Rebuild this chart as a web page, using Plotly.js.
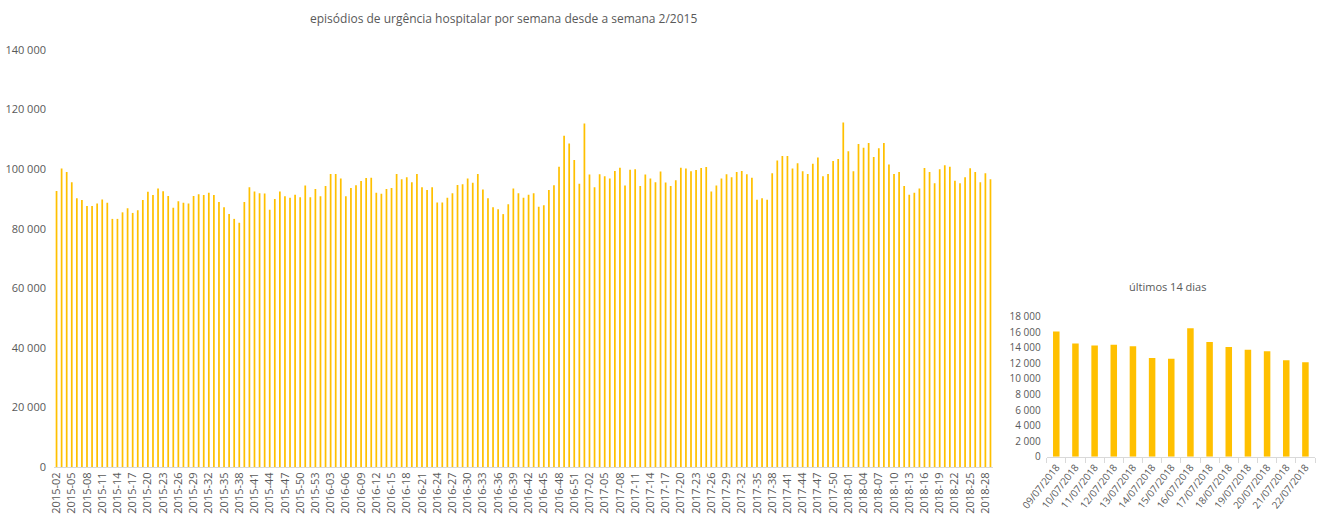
<!DOCTYPE html>
<html>
<head>
<meta charset="utf-8">
<script src="https://cdn.plot.ly/plotly-3.0.1.min.js"></script>
<style>
html,body{margin:0;padding:0;background:#fff;}
#chart{width:1325px;height:524px;}
</style>
</head>
<body>
<div id="chart"></div>
<script>
// weekly categories: 2015-02 .. 2018-29
var weekYears = [2015, 2016, 2017, 2018];
var weekFirst = [2, 1, 1, 1];
var weekLast = [53, 52, 52, 29];
var weeks = [];
for (var k = 0; k < weekYears.length; k++) {
  for (var w = weekFirst[k]; w <= weekLast[k]; w++) {
    weeks.push(weekYears[k] + '-' + (w < 10 ? '0' + w : '' + w));
  }
}

var episodes2015a = [92700, 100200, 99000, 95600, 90200, 89600, 87600, 87600, 88500, 89800,
  88700, 83300, 83300, 85500, 86900, 85300, 86200, 89600, 92400, 91300,
  93500, 92600, 91000, 87000, 89200, 88700, 88500, 91000, 91600, 91300,
  92100, 91300, 89000];
var episodes2015b = [87200, 84900, 83300, 82000, 89000, 93900, 92500, 91900, 91800, 86400,
  90000, 92500, 90900, 90400, 91400, 90600, 94500, 90600, 93300, 90900,
  94300, 98400, 98400, 96900, 90900, 93700, 94600, 96000, 97000, 97100,
  92100, 91700, 93300, 93700, 98400];
var episodes2016 = [96600, 97300, 95600, 98400, 93900, 93000, 93900, 88800, 88800, 90400,
  91900, 94700, 94900, 96900, 95400, 98400, 93200, 90200, 87200, 86500,
  84900, 88200, 93500, 91900, 90400, 91400, 91900, 87400, 87900, 93000,
  94600, 100800, 111200, 108600, 103100, 95100, 115300, 98200];
var episodes2017a = [93900, 98300, 97600, 96900, 99400, 100500, 94500, 99800, 100000, 94300,
  98200, 96900, 95600, 99200, 95500, 94300, 96300, 100500, 100200, 99300,
  99700, 100400, 100700, 92500, 94500, 96900, 98300, 97300, 99000, 99400,
  98300, 97100, 89700, 90200, 89700, 98600, 102900, 104400, 104400];
var episodes2017b = [100200, 102000, 99300, 98400, 101800, 103900, 97600, 98400, 102700, 103400,
  115700, 106000, 99300, 108400, 107200, 108800, 104100, 107000, 108800, 101600,
  98400, 99000, 94300, 91400, 92100, 93500, 100400, 99000, 95300, 100000,
  101300, 100800, 96100, 95300, 97300, 100300, 99000, 95600, 98600, 96600];
var weeklyEpisodes = episodes2015a.concat(episodes2015b, episodes2016, episodes2017a, episodes2017b);

var weekTickLabels = weeks.filter(function (d, i) { return i % 3 === 0; });

var days = ['09/07/2018', '10/07/2018', '11/07/2018', '12/07/2018', '13/07/2018', '14/07/2018', '15/07/2018',
  '16/07/2018', '17/07/2018', '18/07/2018', '19/07/2018', '20/07/2018', '21/07/2018', '22/07/2018'];
var dailyEpisodes = [16100, 14550, 14300, 14400, 14200, 12700, 12600,
  16500, 14750, 14100, 13750, 13550, 12400, 12150];

var gold = '#FFC000';
var grey = '#595959';
var fontFam = 'Open Sans, sans-serif';

var traces = [
  {type: 'bar', x: weeks, y: weeklyEpisodes, xaxis: 'x', yaxis: 'y',
   marker: {color: gold, line: {width: 0}}, hoverinfo: 'x+y'},
  {type: 'bar', x: days, y: dailyEpisodes, xaxis: 'x2', yaxis: 'y2',
   marker: {color: gold, line: {width: 0}}, hoverinfo: 'x+y'}
];

var layout = {
  width: 1325, height: 524,
  margin: {l: 0, r: 0, t: 0, b: 0},
  paper_bgcolor: '#fff', plot_bgcolor: '#fff',
  showlegend: false,
  separators: ', ',
  bargap: 0.66,
  font: {family: fontFam, color: grey, size: 11},
  xaxis: {
    domain: [54 / 1325, 993 / 1325], anchor: 'y', type: 'category',
    tickmode: 'array', tickvals: weekTickLabels, ticktext: weekTickLabels,
    tickangle: -90, tickfont: {size: 11, color: grey, family: fontFam},
    showline: true, linecolor: '#D9D9D9', linewidth: 1,
    ticks: '', showgrid: false, zeroline: false, fixedrange: true
  },
  yaxis: {
    domain: [1 - 467 / 524, 1 - 50 / 524], anchor: 'x',
    range: [0, 140000], dtick: 20000, tickformat: ',d',
    tickfont: {size: 11, color: grey, family: fontFam},
    showgrid: false, zeroline: false, showline: false, ticks: '',
    ticklabelstandoff: 7, fixedrange: true
  },
  xaxis2: {
    domain: [1046.7 / 1325, 1315 / 1325], anchor: 'y2', type: 'category',
    tickangle: -52, tickfont: {size: 10, color: grey, family: fontFam},
    showline: true, linecolor: '#D9D9D9', linewidth: 1,
    ticks: 'outside', tickson: 'boundaries', ticklen: 5, tickcolor: '#D9D9D9',
    showgrid: false, zeroline: false, fixedrange: true
  },
  yaxis2: {
    domain: [1 - 456.7 / 524, 1 - 316.7 / 524], anchor: 'x2',
    range: [0, 18000], dtick: 2000, tickformat: ',d',
    tickfont: {size: 10, color: grey, family: fontFam},
    showgrid: false, zeroline: false, showline: false, ticks: '',
    ticklabelstandoff: 5, fixedrange: true
  },
  annotations: [
    {text: 'episódios de urgência hospitalar por semana desde a semana 2/2015',
     xref: 'paper', yref: 'paper', x: 503 / 1325, y: 1 - 19 / 524,
     xanchor: 'center', yanchor: 'middle', showarrow: false,
     font: {size: 12, color: grey, family: fontFam}},
    {text: 'últimos 14 dias',
     xref: 'paper', yref: 'paper', x: 1167 / 1325, y: 1 - 286 / 524,
     xanchor: 'center', yanchor: 'middle', showarrow: false,
     font: {size: 11, color: grey, family: fontFam}}
  ]
};

Plotly.newPlot('chart', traces, layout, {displayModeBar: false, staticPlot: true});
</script>
</body>
</html>
